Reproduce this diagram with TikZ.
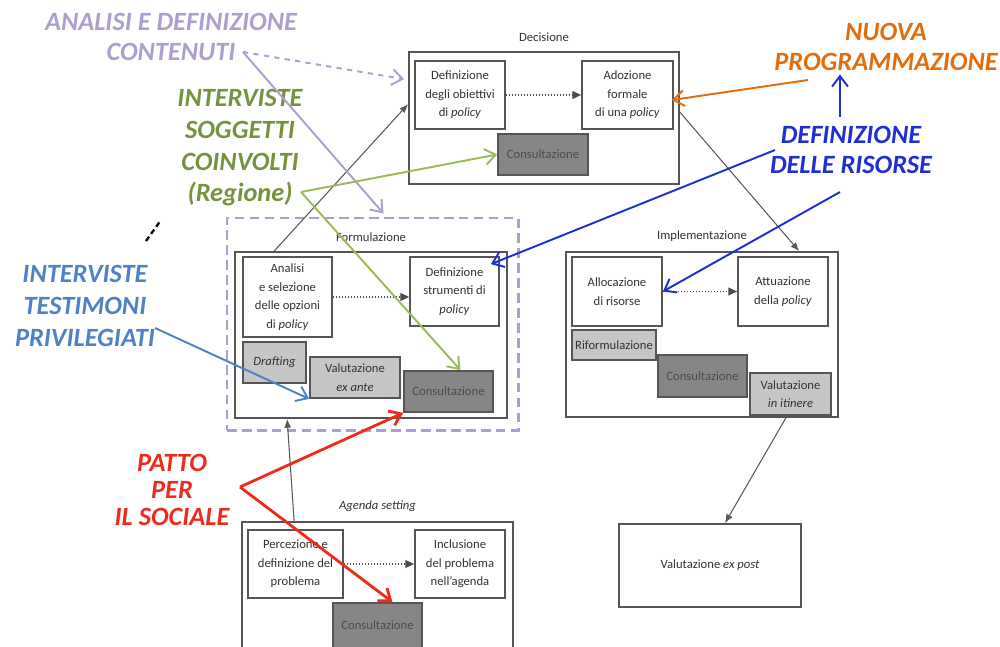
\documentclass[tikz,border=0pt]{standalone}
\usepackage{fontspec}
\setmainfont{Carlito}
\usetikzlibrary{arrows.meta,calc,positioning}

\definecolor{lavender}{HTML}{AC9FD0}
\definecolor{olivegreen}{HTML}{76923C}
\definecolor{lightgreen}{HTML}{9BBB59}
\definecolor{progorange}{HTML}{E46C0A}
\definecolor{resblue}{HTML}{1F2FD6}
\definecolor{skyblue}{HTML}{4F81C9}
\definecolor{pattored}{HTML}{EE2A1B}
\definecolor{boxline}{HTML}{555555}
\definecolor{lightfill}{HTML}{C6C6C6}
\definecolor{darkfill}{HTML}{868686}

\newcommand*{\PlaceBoxes}[2]{% #1 = style, #2 = list of name/left/top/right/bottom/text
  \foreach \nm/\xl/\yt/\xr/\yb/\txt in {#2} {
    \node [#1, minimum width={(\xr-\xl)*0.02cm}, minimum height={(\yb-\yt)*0.02cm}]
      (\nm) at ({(\xl+\xr)/2},{(\yt+\yb)/2}) {\txt};
  }%
}

\begin{document}
\begin{tikzpicture}[x=0.02cm, y=-0.02cm,
  boxfont/.style={font=\fontsize{7.2}{10.5}\selectfont, text=black!80},
  areabox/.style={draw=lavender, line width=1.7pt, dash pattern=on 5.5pt off 3pt},
  outerbox/.style={boxfont, draw=boxline, line width=1pt, fill=white, align=center},
  stepbox/.style={outerbox, inner sep=1pt},
  lightbox/.style={stepbox, fill=lightfill},
  darkbox/.style={stepbox, fill=darkfill, text=black!70},
  phasetitle/.style={boxfont},
  flow/.style={draw=black!65, line width=0.6pt, -{Latex[length=5pt,width=4pt]}},
  nextstep/.style={draw=black!70, densely dotted, line width=0.7pt, -{Triangle[length=5pt,width=4.5pt]}},
  note/.style={font=\fontsize{15}{#1}\selectfont\bfseries\itshape, align=center, inner sep=0pt},
  pointer/.style={line width=1.1pt, -{Straight Barb[length=6pt,width=9pt]}},
]
  \useasboundingbox (0,0) rectangle (1000,646);
  \clip (0,0) rectangle (1000,646);

  % phases
  \PlaceBoxes{areabox}{formarea/227/218/518/430/{}}
  \PlaceBoxes{outerbox}{dec/409/52/679/184/{}, form/235/252/507/418/{},
    impl/566/252/838/417/{}, agenda/242/522/513/690/{},
    expost/619/524/801/607/{Valutazione \emph{ex post}}}
  \node [phasetitle, above=0.06cm of dec] (dectitle) {Decisione};
  \node [phasetitle, above=0.06cm of form] (formtitle) {Formulazione};
  \node [phasetitle, above=0.06cm of impl] (impltitle) {Implementazione};
  \node [phasetitle, above=0.06cm of agenda] (agendatitle) {\emph{Agenda setting}};

  % steps inside the phases
  \PlaceBoxes{stepbox}{obiett/415/61/505/129/{Definizione\\degli obiettivi\\di \emph{policy}},
    adoz/582/61/673/129/{Adozione\\formale\\di una \emph{policy}},
    analisi/243/257/332/337/{Analisi\\e selezione\\delle opzioni\\di \emph{policy}},
    strum/410/257/499/326/{Definizione\\strumenti di\\\emph{policy}},
    alloc/572/257/662/326/{Allocazione\\di risorse},
    attua/738/257/828/326/{Attuazione\\della \emph{policy}},
    percez/248/530/343/598/{Percezione e\\definizione del\\problema},
    inclus/415/530/505/598/{Inclusione\\del problema\\nell'agenda}}
  \PlaceBoxes{lightbox}{drafting/243/342/306/383/{\emph{Drafting}},
    valante/310/357/400/398/{Valutazione\\\emph{ex ante}},
    riform/572/330/656/360/{Riformulazione},
    valitin/750/373/831/415/{Valutazione\\\emph{in itinere}}}
  \PlaceBoxes{darkbox}{consdec/498/134/588/175/{Consultazione},
    consform/404/371/493/412/{Consultazione},
    consimpl/658/355/747/397/{Consultazione},
    consagenda/333/603/422/648/{Consultazione}}

  \draw [nextstep] (obiett) -- (adoz);
  \draw [nextstep] (analisi.east) -- (analisi.east -| strum.west);
  \draw [nextstep] (alloc) -- (attua);
  \draw [nextstep] (percez) -- (inclus);

  % cycle
  \draw [flow] ($(form.north west)+(40,0)$) -- ($(dec.north west)+(0,53)$);
  \draw [flow] ($(dec.north east)+(0,61)$) -- ($(impl.north west)+(234,0)$);
  \draw [flow] ($(impl.south east)+(-53,0)$) -- ($(expost.north)+(15,0)$);
  \draw [flow] ($(agenda.north west)+(53,0)$) -- ($(form.south west)+(53,0)$);

  % notes
  \node [note=17pt, text=lavender] (notecontenuti) at (171,37) {ANALISI E DEFINIZIONE\\CONTENUTI};
  \node [note=18pt, text=olivegreen] (notesoggetti) at (240,148) {INTERVISTE\\SOGGETTI\\COINVOLTI\\(Regione)};
  \node [note=17.5pt, text=progorange] (noteprog) at (886,47) {NUOVA\\PROGRAMMAZIONE};
  \node [note=17pt, text=resblue] (noterisorse) at (851,150) {DEFINIZIONE\\DELLE RISORSE};
  \node [note=18.4pt, text=skyblue] (notetestimoni) at (85,306) {INTERVISTE\\TESTIMONI\\PRIVILEGIATI};
  \node [note=15.3pt, text=pattored] (notepatto) at (172,490) {PATTO\\PER\\IL SOCIALE};

  \coordinate (contenuti-out) at (243,52);
  \coordinate (regione-out) at (301,192);
  \coordinate (prog-out) at (808,80);
  \coordinate (risorse-out) at (775,150);
  \coordinate (risorse-low) at (840,192);
  \coordinate (testimoni-out) at (155,328);
  \coordinate (patto-out) at (240,487);

  \draw [pointer, lavender, dashed] (contenuti-out) -- ($(dec.north west)+(-4,28)$);
  \draw [pointer, lavender] (contenuti-out) -- ($(formarea.north west)+(158,-3)$);
  \draw [pointer, lightgreen] (regione-out) -- (consdec.west);
  \draw [pointer, lightgreen] (regione-out) -- ($(consform.north)+(12,0)$);
  \draw [pointer, progorange] (prog-out) -- ($(adoz.east)+(-2,5)$);
  \draw [pointer, resblue] ($(noterisorse.north)+(-11,-9)$) -- ($(noteprog.south)+(-46,3)$);
  \draw [pointer, resblue] (risorse-out) -- ($(strum.north east)+(-9,8)$);
  \draw [pointer, resblue] (risorse-low) -- (alloc.east);
  \draw [pointer, skyblue] (testimoni-out) -- (valante.south west);
  \draw [pointer, pattored, line width=1.6pt] (patto-out) -- (consform.south west);
  \draw [pointer, pattored, line width=1.6pt] (patto-out) -- ($(consagenda.north)+(15,0)$);

  \draw [black, line width=1.3pt, dash pattern=on 3pt off 2pt] (146,241) -- (161,220);
\end{tikzpicture}
\end{document}
